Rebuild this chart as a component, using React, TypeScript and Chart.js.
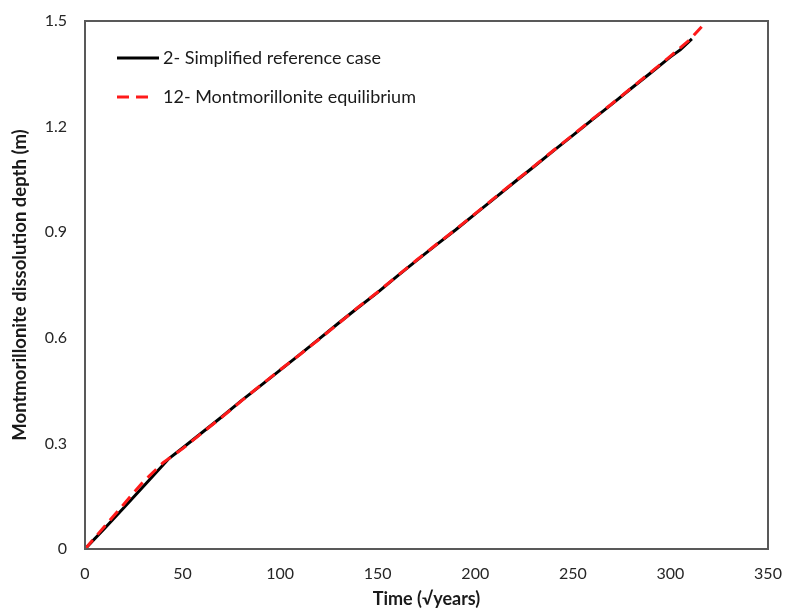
import React, { useEffect, useRef } from "react";
import { Chart, registerables } from "chart.js";

Chart.register(...registerables);

// Series: dissolution depth (m) versus time (√years)
const refTime = [0, 10, 20, 30, 43, 50, 60, 70, 80, 90, 100, 110, 120, 130, 140, 150, 160, 170, 180, 190, 200, 210, 220, 230, 240, 250, 260, 270, 280, 290, 300, 305, 311];
const refDepth = [0, 0.058, 0.118, 0.178, 0.257, 0.287, 0.331, 0.375, 0.421, 0.464, 0.508, 0.552, 0.597, 0.642, 0.686, 0.729, 0.775, 0.82, 0.864, 0.907, 0.952, 0.997, 1.042, 1.086, 1.131, 1.175, 1.22, 1.264, 1.309, 1.353, 1.398, 1.418, 1.449];

const eqTime = [0, 10, 20, 30, 40, 50, 60, 70, 80, 90, 100, 110, 120, 130, 140, 150, 160, 170, 180, 190, 200, 210, 220, 230, 240, 250, 260, 270, 280, 290, 300, 310, 316];
const eqDepth = [0, 0.064, 0.128, 0.192, 0.245, 0.285, 0.33, 0.374, 0.42, 0.465, 0.509, 0.552, 0.596, 0.641, 0.687, 0.73, 0.776, 0.821, 0.865, 0.908, 0.953, 0.998, 1.043, 1.087, 1.132, 1.176, 1.221, 1.265, 1.31, 1.355, 1.4, 1.447, 1.484];

const seriesLabels = ["2- Simplified reference case", "12- Montmorillonite equilibrium"];
const xTitle = "Time (√years)";
const yTitle = "Montmorillonite dissolution depth (m)";

const FONT = "Lato, 'Open Sans', sans-serif";

// Frame around the plot area
const framePlugin = {
  id: "frame",
  afterDraw(chart: any) {
    const { ctx, chartArea: a } = chart;
    ctx.save();
    ctx.strokeStyle = "#595959";
    ctx.lineWidth = 2;
    ctx.strokeRect(a.left, a.top, a.right - a.left, a.bottom - a.top);
    ctx.restore();
  },
};

// Legend drawn inside the plot area, top-left
const innerLegend = {
  id: "innerLegend",
  afterDraw(chart: any) {
    const { ctx, chartArea: a } = chart;
    const sets = chart.data.datasets;
    const order = [1, 0];
    ctx.save();
    ctx.font = `18px ${FONT}`;
    ctx.textBaseline = "middle";
    ctx.fillStyle = "#1a1a1a";
    order.forEach((idx, row) => {
      const ds = sets[idx];
      const y = a.top + 37 + row * 39;
      const x0 = a.left + 32;
      ctx.beginPath();
      ctx.strokeStyle = ds.borderColor;
      ctx.lineWidth = ds.borderWidth;
      ctx.setLineDash(ds.borderDash || []);
      ctx.moveTo(x0, y);
      ctx.lineTo(x0 + (ds.borderDash ? 34 : 42), y);
      ctx.stroke();
      ctx.setLineDash([]);
      ctx.fillText(ds.label, a.left + 78, y);
    });
    ctx.restore();
  },
};

export default function App() {
  const ref = useRef<HTMLCanvasElement | null>(null);

  useEffect(() => {
    if (!ref.current) return;
    const chart = new Chart(ref.current, {
      type: "line",
      data: {
        datasets: [
          {
            label: seriesLabels[1],
            data: eqTime.map((t, i) => ({ x: t, y: eqDepth[i] })),
            borderColor: "#ff1a1a",
            borderWidth: 3,
            borderDash: [12, 7],
            pointRadius: 0,
            tension: 0,
            order: 0,
          },
          {
            label: seriesLabels[0],
            data: refTime.map((t, i) => ({ x: t, y: refDepth[i] })),
            borderColor: "#000000",
            borderWidth: 3,
            pointRadius: 0,
            tension: 0,
            order: 1,
          },
        ],
      },
      options: {
        animation: false,
        responsive: false,
        layout: { padding: { left: 0, right: 18, top: 21, bottom: 0 } },
        plugins: {
          legend: { display: false },
          tooltip: { enabled: false },
        },
        scales: {
          x: {
            type: "linear",
            min: 0,
            max: 350,
            grid: { display: false, drawTicks: false },
            border: { display: false },
            afterFit: (s: any) => {
              s.height = 61;
              s.paddingLeft = 0;
              s.paddingRight = 0;
            },
            ticks: {
              stepSize: 50,
              padding: 15,
              maxRotation: 0,
              color: "#262626",
              font: { family: FONT, size: 16 },
            },
            title: {
              display: true,
              text: xTitle,
              color: "#1a1a1a",
              font: { family: FONT, size: 18, weight: "bold" },
              padding: { top: 0, bottom: 0 },
            },
          },
          y: {
            type: "linear",
            min: 0,
            max: 1.5,
            grid: { display: false, drawTicks: false },
            border: { display: false },
            afterFit: (s: any) => {
              s.width = 85;
              s.paddingTop = 0;
              s.paddingBottom = 0;
            },
            ticks: {
              stepSize: 0.3,
              padding: 18,
              color: "#262626",
              font: { family: FONT, size: 16 },
              callback: (v: any) => (Number(v) === 0 ? "0" : Number(v).toFixed(1)),
            },
            title: {
              display: true,
              text: yTitle,
              color: "#1a1a1a",
              font: { family: FONT, size: 18.5, weight: "bold" },
              padding: { top: 9, bottom: 0 },
            },
          },
        },
      },
      plugins: [framePlugin, innerLegend],
    });
    return () => chart.destroy();
  }, []);

  return (
    <div style={{ position: "fixed", left: 0, top: 0, width: 786, height: 610, background: "#fff" }}>
      <canvas ref={ref} width={786} height={610} style={{ width: 786, height: 610, display: "block" }} />
    </div>
  );
}
